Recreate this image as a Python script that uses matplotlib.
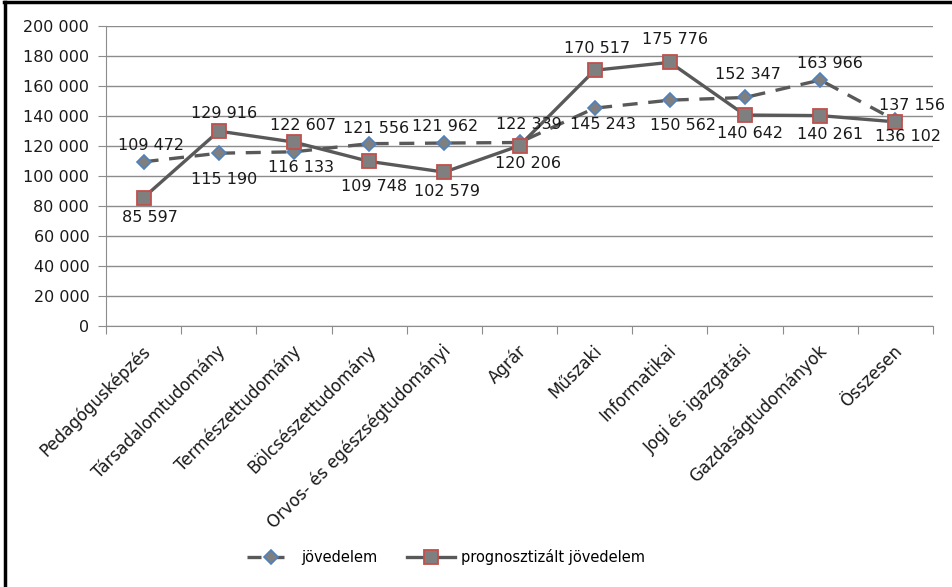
import matplotlib

matplotlib.use("Agg")
import matplotlib.pyplot as plt
from matplotlib.lines import Line2D
from matplotlib.transforms import ScaledTranslation

plt.rcParams["font.family"] = ["DejaVu Sans"]

categories = [
    "Pedagógusképzés", "Társadalomtudomány", "Természettudomány",
    "Bölcsészettudomány", "Orvos- és egészségtudományi", "Agrár",
    "Műszaki", "Informatikai", "Jogi és igazgatási",
    "Gazdaságtudományok", "Összesen",
]
jovedelem = [109472, 115190, 116133, 121556, 121962, 122339,
             145243, 150562, 152347, 163966, 137156]
prognozis = [85597, 129916, 122607, 109748, 102579, 120206,
             170517, 175776, 140642, 140261, 136102]

# label offsets in pixels (dx, dy) relative to each marker
jov_off = [(7, 16), (5, -26), (7, -16), (7, 15), (1, 17), (9, 18),
           (8, -16), (13, -25), (3, 23), (10, 17), (17, 15)]
prog_off = [(6, -20), (5, 18), (9, 17), (5, -25), (3, -19), (8, -18),
            (2, 22), (5, 23), (5, -18), (10, -19), (13, -15)]

LINE = "#595959"
TXT = "#1a1a1a"
FS = 11.5


def fmt(v):
    return f"{v:,}".replace(",", " ")


fig = plt.figure(figsize=(9.52, 5.87), dpi=100)
ax = fig.add_axes([106 / 952, 1 - 326 / 587, 827 / 952, 300 / 587])

x = list(range(len(categories)))
ax.plot(x, jovedelem, color=LINE, lw=2.4, ls=(0, (4.5, 3.2)), marker="D",
        ms=7.5, mfc="#7f7f7f", mec="#4f81bd", mew=1.2, zorder=3)
ax.plot(x, prognozis, color=LINE, lw=2.4, marker="s", ms=10,
        mfc="#7f7f7f", mec="#c0504d", mew=1.3, zorder=4)

for xi, v, (dx, dy) in zip(x, jovedelem, jov_off):
    ax.annotate(fmt(v), (xi, v), xytext=(dx, dy), textcoords="offset pixels",
                ha="center", va="center", fontsize=FS, color=TXT, zorder=5)
for xi, v, (dx, dy) in zip(x, prognozis, prog_off):
    ax.annotate(fmt(v), (xi, v), xytext=(dx, dy), textcoords="offset pixels",
                ha="center", va="center", fontsize=FS, color=TXT, zorder=5)

ax.set_xlim(-0.5, len(categories) - 0.5)
ax.set_ylim(0, 200000)
ax.set_yticks(range(0, 200001, 20000))
ax.set_yticklabels([fmt(v) for v in range(0, 200001, 20000)], fontsize=FS,
                   color=TXT)
ax.yaxis.grid(True, color="#8c8c8c", lw=1)
ax.set_axisbelow(True)

# category ticks sit between categories, labels at centres
ax.set_xticks([i - 0.5 for i in range(len(categories) + 1)])
ax.set_xticklabels([])
ax.set_xticks(x, minor=True)
ax.set_xticklabels(categories, minor=True, rotation=45, ha="right",
                   va="center", rotation_mode="anchor", fontsize=12,
                   color=TXT)
ax.tick_params(axis="x", which="minor", length=0, pad=16)
ax.tick_params(axis="x", which="major", length=6, color="#8c8c8c")
ax.tick_params(axis="y", length=6, color="#8c8c8c", pad=6)
for lbl in ax.get_xticklabels(minor=True):
    lbl.set_transform(lbl.get_transform()
                      + ScaledTranslation(4 / 100, 0, fig.dpi_scale_trans))

for side in ("top", "right"):
    ax.spines[side].set_visible(False)
ax.spines["left"].set_color("#8c8c8c")
ax.spines["bottom"].set_color("#8c8c8c")

# legend: the dashed key ends in a gap, so it looks shorter than the solid one
handles = [
    Line2D([], [], color=LINE, lw=2.4, ls=(0, (4.2, 1.5, 5.4, 12)), marker="D",
           ms=7.5, mfc="#7f7f7f", mec="#4f81bd", mew=1.2),
    Line2D([], [], color=LINE, lw=2.4, marker="s", ms=10, mfc="#7f7f7f",
           mec="#c0504d", mew=1.3),
]
fig.legend(handles, ["jövedelem", "prognosztizált jövedelem"], loc="center",
           bbox_to_anchor=(446 / 952, 1 - 557 / 587), ncol=2, frameon=False,
           fontsize=10.5, handlelength=3.3, columnspacing=2.0,
           handletextpad=0.4)

# left and top border of the chart area
fig.add_artist(Line2D([5 / 952, 5 / 952], [0, 1 - 2 / 587], color="black",
                      lw=2.5, transform=fig.transFigure))
fig.add_artist(Line2D([4 / 952, 1], [1 - 2 / 587, 1 - 2 / 587], color="black",
                      lw=2.5, transform=fig.transFigure))

fig.savefig("out.png", dpi=100)
